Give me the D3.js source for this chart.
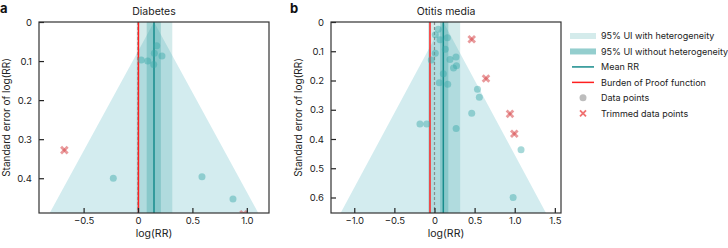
<!DOCTYPE html>
<html>
<head>
<meta charset="utf-8">
<script src="https://cdn.jsdelivr.net/npm/d3@7"></script>
<style>
  body { margin: 0; background: #fff; }
  svg { font-family: Inter, "Noto Sans", sans-serif; }
</style>
</head>
<body>
<script>
// panel a : Diabetes
const diabetesPoints = [
  [0.172, 0.061], [0.150, 0.080], [0.220, 0.087], [0.030, 0.097],
  [0.089, 0.100], [0.144, 0.109], [-0.227, 0.400], [0.588, 0.396],
  [0.873, 0.453]
];
const diabetesTrimmed = [[-0.677, 0.328], [0.970, 0.492]];
const diabetesStats = { mean: 0.147, bprf: 0.004, uiHet: [-0.012, 0.315], uiNoHet: [0.08, 0.21] };

// panel b : Otitis media
const otitisPoints = [
  [0.047, 0.025], [0.010, 0.044], [0.069, 0.061], [0.160, 0.054],
  [0.135, 0.093], [0.010, 0.107], [-0.040, 0.130], [0.193, 0.128],
  [0.237, 0.157], [0.274, 0.150], [0.268, 0.120], [0.110, 0.177],
  [0.060, 0.208], [0.165, 0.213], [-0.181, 0.349], [-0.097, 0.349],
  [0.270, 0.364], [0.464, 0.312], [0.536, 0.230], [0.559, 0.257],
  [1.079, 0.437], [0.980, 0.600]
];
const otitisTrimmed = [[0.464, 0.059], [0.642, 0.193], [0.941, 0.314], [0.995, 0.382]];
const otitisStats = { mean: 0.11, bprf: -0.056, uiHet: [-0.08, 0.32], uiNoHet: [0.07, 0.172] };

const legendLabels = ["95% UI with heterogeneity", "95% UI without heterogeneity", "Mean RR",
  "Burden of Proof function", "Data points", "Trimmed data points"];

const width = 728, height = 248;
const plotTop = 22, plotBottom = 213;

const svg = d3.select('body').append('svg')
  .attr('width', width)
  .attr('height', height);

function tickFmt(d) { return d === 0 ? '0' : d3.format('.1f')(d); }

function drawPanel(cfg) {
  const x = d3.scaleLinear().domain(cfg.xDomain).range([cfg.left, cfg.right]);
  const y = d3.scaleLinear().domain(cfg.yDomain).range([plotTop, plotBottom]);
  const g = svg.append('g');

  g.append('clipPath').attr('id', 'clip-' + cfg.id)
    .append('rect')
    .attr('x', cfg.left).attr('y', plotTop)
    .attr('width', cfg.right - cfg.left).attr('height', plotBottom - plotTop);

  const plot = g.append('g').attr('clip-path', `url(#clip-${cfg.id})`);
  const s = cfg.stats;
  const seMax = cfg.yDomain[1] * 1.2;

  // funnel
  plot.append('path')
    .attr('d', d3.line()([
      [x(s.mean), y(0)],
      [x(s.mean - 1.96 * seMax), y(seMax)],
      [x(s.mean + 1.96 * seMax), y(seMax)]
    ]))
    .attr('fill', '#d3ecef');

  plot.append('rect')
    .attr('x', x(s.uiHet[0])).attr('width', x(s.uiHet[1]) - x(s.uiHet[0]))
    .attr('y', plotTop).attr('height', plotBottom - plotTop)
    .attr('fill', '#2a9d9d').attr('opacity', 0.2);
  plot.append('rect')
    .attr('x', x(s.uiNoHet[0])).attr('width', x(s.uiNoHet[1]) - x(s.uiNoHet[0]))
    .attr('y', plotTop).attr('height', plotBottom - plotTop)
    .attr('fill', '#2a9d9d').attr('opacity', 0.3);

  plot.append('line')
    .attr('x1', x(0)).attr('x2', x(0)).attr('y1', plotTop).attr('y2', plotBottom)
    .attr('stroke', '#8a8a8a').attr('stroke-width', 1.2).attr('stroke-dasharray', '3,2');
  plot.append('line')
    .attr('x1', x(s.bprf)).attr('x2', x(s.bprf)).attr('y1', plotTop).attr('y2', plotBottom)
    .attr('stroke', '#ff1f1f').attr('stroke-width', 1.5);
  plot.append('line')
    .attr('x1', x(s.mean)).attr('x2', x(s.mean)).attr('y1', plotTop).attr('y2', plotBottom)
    .attr('stroke', '#178c8c').attr('stroke-width', 1.5);

  plot.selectAll('.pt').data(cfg.points).enter().append('circle')
    .attr('cx', d => x(d[0])).attr('cy', d => y(d[1])).attr('r', 3.5)
    .attr('fill', '#3aa8a8').attr('opacity', 0.45);

  const xs = plot.selectAll('.tr').data(cfg.trimmed).enter().append('g')
    .attr('transform', d => `translate(${x(d[0])},${y(d[1])})`);
  xs.append('path').attr('d', 'M-3.3,-3.3L3.3,3.3').attr('stroke', '#d8494c').attr('stroke-width', 2.8).attr('opacity', 0.55);
  xs.append('path').attr('d', 'M-3.3,3.3L3.3,-3.3').attr('stroke', '#d8494c').attr('stroke-width', 2.8).attr('opacity', 0.55);

  // axes, ticks inward
  const xAxis = g.append('g').attr('transform', `translate(0,${plotBottom})`)
    .call(d3.axisBottom(x).tickValues(cfg.xTicks).tickFormat(tickFmt).tickSizeInner(-5).tickSizeOuter(0).tickPadding(4));
  const yAxis = g.append('g').attr('transform', `translate(${cfg.left},0)`)
    .call(d3.axisLeft(y).tickValues(cfg.yTicks).tickFormat(tickFmt).tickSizeInner(-5).tickSizeOuter(0).tickPadding(7));
  [xAxis, yAxis].forEach(a => {
    a.select('.domain').remove();
    a.selectAll('line').attr('stroke', '#222').attr('stroke-width', 1.2);
    a.selectAll('text').attr('font-size', 9.5).attr('fill', '#222').attr('font-family', 'Inter, "Noto Sans", sans-serif');
  });

  g.append('rect')
    .attr('x', cfg.left).attr('y', plotTop)
    .attr('width', cfg.right - cfg.left).attr('height', plotBottom - plotTop)
    .attr('fill', 'none').attr('stroke', '#333').attr('stroke-width', 1.2);

  g.append('text').text(cfg.title)
    .attr('x', (cfg.left + cfg.right) / 2).attr('y', 15)
    .attr('text-anchor', 'middle').attr('font-size', 10.5).attr('fill', '#222');
  g.append('text').text('log(RR)')
    .attr('x', (cfg.left + cfg.right) / 2).attr('y', 237)
    .attr('text-anchor', 'middle').attr('font-size', 10.5).attr('fill', '#222');
  g.append('text').text('Standard error of log(RR)')
    .attr('transform', `translate(${cfg.left - 29},${(plotTop + plotBottom) / 2}) rotate(-90)`)
    .attr('text-anchor', 'middle').attr('font-size', 10).attr('fill', '#222');
  g.append('text').text(cfg.tag)
    .attr('x', cfg.tagX).attr('y', 13)
    .attr('font-size', 13).attr('font-weight', 'bold').attr('fill', '#111');
}

drawPanel({
  id: 'a', tag: 'a', tagX: 0, title: 'Diabetes', left: 39, right: 269,
  xDomain: [-0.91, 1.204], yDomain: [0, 0.489],
  xTicks: [-0.5, 0, 0.5, 1.0], yTicks: [0, 0.1, 0.2, 0.3, 0.4],
  points: diabetesPoints, trimmed: diabetesTrimmed, stats: diabetesStats
});
drawPanel({
  id: 'b', tag: 'b', tagX: 290, title: 'Otitis media', left: 331, right: 561,
  xDomain: [-1.29, 1.577], yDomain: [0, 0.653],
  xTicks: [-1.0, -0.5, 0, 0.5, 1.0, 1.5], yTicks: [0, 0.1, 0.2, 0.3, 0.4, 0.5, 0.6],
  points: otitisPoints, trimmed: otitisTrimmed, stats: otitisStats
});

// legend
const lg = svg.append('g');
const rowY = d3.scaleLinear().domain([0, 5]).range([36, 113.3]);
legendLabels.forEach((label, i) => {
  const yy = rowY(i);
  if (i === 0 || i === 1) {
    lg.append('rect').attr('x', 570).attr('y', yy - 3).attr('width', 26).attr('height', 6)
      .attr('fill', '#2a9d9d').attr('opacity', i === 0 ? 0.2 : 0.5);
  } else if (i === 2 || i === 3) {
    lg.append('line').attr('x1', 572).attr('x2', 594).attr('y1', yy).attr('y2', yy)
      .attr('stroke', i === 2 ? '#178c8c' : '#ff1f1f').attr('stroke-width', 1.5);
  } else if (i === 4) {
    lg.append('circle').attr('cx', 583).attr('cy', yy).attr('r', 3.5).attr('fill', '#bdbdbd');
  } else {
    lg.append('path').attr('d', `M580,${yy - 3}L586,${yy + 3}M580,${yy + 3}L586,${yy - 3}`)
      .attr('stroke', '#f07070').attr('stroke-width', 1.8);
  }
  lg.append('text').text(label).attr('x', 601).attr('y', yy + 3.2)
    .attr('font-size', 9).attr('fill', '#222');
});
</script>
</body>
</html>
